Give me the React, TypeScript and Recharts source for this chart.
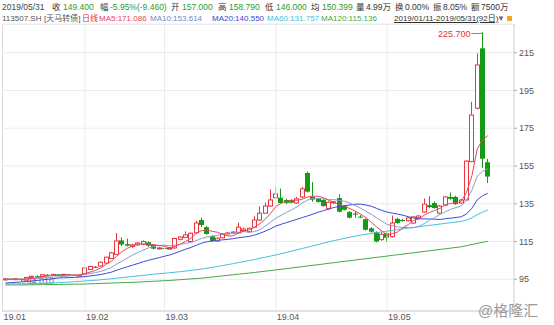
import { ComposedChart, Bar, Line, XAxis, YAxis, CartesianGrid, ReferenceLine } from "recharts";

const FONT = "'Liberation Sans', 'Noto Sans CJK SC', sans-serif";

// 2019/01/11 - 2019/05/31, 92 trading days (index 0..91)
const opens = [
  94.8, 95.2, 94.9, 95.2, 94.6, 96.0, 96.6, 96.5, 97.4, 97.0,
  97.6, 97.2, 97.6, 97.3, 97.0, 97.8, 100.2, 101.6, 102.0, 103.6,
  106.0, 108.2, 115.6, 113.6, 112.4, 113.2, 113.6, 114.6, 113.2, 111.4,
  111.6, 111.4, 111.6, 116.2, 117.2, 115.0, 119.6, 126.4, 122.6, 117.9,
  115.2, 117.0, 119.4, 119.6, 119.6, 120.8, 120.2, 122.6, 126.4, 130.0,
  133.8, 138.2, 138.2, 137.0, 137.0, 135.4, 138.6, 151.3, 138.6, 137.6,
  137.0, 132.4, 135.5, 138.0, 133.8, 130.6, 129.8, 128.2, 126.8, 122.0,
  120.0, 116.0, 119.4, 117.6, 127.0, 126.4, 126.0, 124.8, 127.6, 130.6,
  134.3, 135.4, 130.0, 134.3, 138.6, 138.6, 135.4, 137.0, 157.3, 185.6,
  217.3, 157.0,
];
const highs = [
  95.6, 95.5, 95.6, 95.4, 96.3, 96.9, 97.0, 97.6, 97.6, 97.9,
  97.8, 97.9, 97.8, 97.5, 97.4, 101.2, 102.2, 102.0, 104.4, 107.0,
  109.5, 119.5, 117.2, 116.5, 113.8, 114.6, 115.6, 115.0, 113.6, 112.2,
  112.0, 112.0, 117.0, 117.8, 120.4, 119.8, 126.0, 127.6, 123.2, 118.4,
  117.2, 119.4, 120.0, 120.4, 125.0, 122.4, 122.4, 128.4, 133.6, 135.6,
  142.6, 144.0, 143.0, 137.6, 137.4, 138.6, 144.0, 152.0, 146.5, 138.0,
  137.4, 136.2, 136.4, 140.0, 134.4, 131.2, 131.0, 129.0, 127.2, 122.6,
  120.4, 120.0, 119.8, 128.8, 127.6, 127.0, 127.8, 128.4, 129.0, 137.8,
  139.0, 136.2, 134.4, 139.0, 141.0, 139.2, 137.6, 158.0, 189.0, 214.7,
  225.7, 158.79,
];
const lows = [
  94.4, 94.5, 94.6, 94.01, 94.5, 95.8, 96.2, 96.3, 96.8, 96.8,
  97.0, 97.0, 97.0, 96.7, 96.6, 97.6, 100.0, 101.0, 101.8, 103.4,
  105.6, 108.0, 112.6, 112.4, 111.6, 112.8, 113.0, 112.2, 110.8, 110.8,
  111.0, 110.8, 111.2, 115.6, 116.8, 114.6, 119.2, 122.6, 118.6, 114.8,
  114.8, 116.6, 118.8, 119.0, 119.2, 120.4, 119.8, 122.2, 126.0, 129.6,
  133.4, 137.6, 135.0, 134.8, 135.2, 135.0, 138.0, 141.0, 136.0, 135.6,
  133.4, 132.0, 135.0, 130.4, 131.4, 127.2, 127.6, 127.4, 120.8, 119.8,
  114.6, 115.4, 114.8, 117.0, 124.4, 125.6, 125.6, 124.4, 127.2, 130.2,
  132.6, 132.4, 129.6, 134.0, 137.2, 134.4, 135.0, 136.6, 157.0, 185.0,
  154.0, 146.0,
];
const closes = [
  95.2, 94.9, 95.3, 94.6, 96.0, 96.6, 96.5, 97.4, 97.0, 97.6,
  97.2, 97.6, 97.3, 97.0, 97.2, 101.0, 101.8, 101.4, 104.0, 106.7,
  109.0, 115.3, 113.4, 112.8, 113.2, 114.2, 115.0, 112.8, 111.2, 111.6,
  111.4, 111.5, 116.6, 117.4, 118.5, 119.4, 124.8, 123.7, 119.0, 115.2,
  116.8, 119.0, 119.5, 120.0, 122.6, 121.6, 122.0, 126.4, 130.0, 133.8,
  137.0, 140.2, 135.4, 135.5, 135.6, 137.6, 142.9, 141.4, 137.2, 136.0,
  133.8, 135.8, 136.0, 130.8, 131.8, 127.6, 129.4, 128.0, 121.2, 120.2,
  115.0, 118.8, 117.0, 124.8, 124.8, 125.8, 127.5, 128.0, 128.5, 134.8,
  133.2, 132.7, 133.8, 138.6, 137.6, 134.8, 137.0, 157.6, 182.0, 208.5,
  158.86, 149.4,
];

const ma5 = [
  95.1, 95.05, 95.1, 95.0, 95.2, 95.48, 95.8, 96.22, 96.7, 97.02,
  97.14, 97.36, 97.34, 97.34, 97.26, 98.02, 98.86, 99.68, 101.08, 102.98,
  104.58, 107.28, 109.68, 111.44, 112.74, 113.78, 113.72, 113.6, 113.28, 112.96,
  112.4, 111.7, 112.46, 113.7, 115.08, 116.68, 119.34, 120.76, 121.08, 120.42,
  119.9, 118.74, 117.9, 118.1, 119.58, 120.54, 121.14, 122.52, 124.52, 126.76,
  129.84, 133.48, 135.28, 136.38, 136.74, 136.86, 137.4, 138.6, 138.94, 139.02,
  138.26, 136.84, 135.76, 134.48, 133.64, 132.4, 131.12, 129.52, 127.6, 125.28,
  122.76, 120.64, 118.44, 119.16, 120.08, 122.24, 123.98, 126.18, 126.92, 128.92,
  130.4, 131.44, 132.6, 134.62, 135.18, 135.5, 136.36, 141.12, 149.8, 163.98,
  168.79, 171.09,
];
const ma10 = [
  95.1, 95.05, 95.05, 95.0, 95.15, 95.29, 95.43, 95.66, 95.85, 96.11,
  96.31, 96.58, 96.78, 97.02, 97.14, 97.58, 98.11, 98.51, 99.21, 100.12,
  101.3, 103.07, 104.68, 106.26, 107.86, 109.18, 110.5, 111.64, 112.36, 112.85,
  113.09, 112.71, 113.03, 113.49, 114.02, 114.54, 115.52, 116.61, 117.39, 117.75,
  118.29, 119.04, 119.33, 119.59, 120.0, 120.22, 119.94, 120.21, 121.31, 123.17,
  125.19, 127.31, 128.9, 130.45, 131.75, 133.35, 135.44, 136.94, 137.66, 137.88,
  137.56, 137.12, 137.18, 136.71, 136.33, 135.33, 133.98, 132.64, 131.04, 129.46,
  127.58, 125.88, 123.98, 123.38, 122.68, 122.5, 122.31, 122.31, 123.04, 124.5,
  126.32, 127.71, 129.39, 130.77, 132.05, 132.95, 133.9, 136.86, 142.21, 149.58,
  152.15, 153.61,
];
const ma20 = [
  93.0, 93.2, 93.4, 93.6, 93.8, 94.1, 94.4, 94.7, 95.0, 95.3,
  95.7, 95.8, 95.9, 96.0, 96.15, 96.44, 96.77, 97.09, 97.53, 98.12,
  98.8, 99.83, 100.73, 101.64, 102.5, 103.38, 104.3, 105.08, 105.78, 106.48,
  107.2, 107.89, 108.86, 109.88, 110.94, 111.86, 113.01, 114.13, 114.88, 115.3,
  115.69, 115.88, 116.18, 116.54, 117.01, 117.38, 117.73, 118.41, 119.35, 120.46,
  121.74, 123.18, 124.12, 125.02, 125.88, 126.79, 127.69, 128.58, 129.49, 130.53,
  131.38, 132.22, 133.04, 133.58, 134.04, 134.34, 134.71, 134.79, 134.35, 133.67,
  132.57, 131.5, 130.58, 130.05, 129.51, 128.92, 128.15, 127.48, 127.04, 126.98,
  126.95, 126.8, 126.69, 127.08, 127.37, 127.73, 128.11, 129.59, 132.63, 137.04,
  139.24, 140.55,
];
const ma60 = [
  92.5, 92.55, 92.6, 92.65, 92.7, 92.75, 92.8, 92.9, 93.0, 93.1,
  93.2, 93.35, 93.5, 93.7, 93.9, 94.1, 94.3, 94.5, 94.75, 95.0,
  95.3, 95.6, 95.9, 96.2, 96.5, 96.8, 97.1, 97.4, 97.7, 97.95,
  98.2, 98.45, 98.75, 99.05, 99.35, 99.7, 100.05, 100.4, 100.85, 101.3,
  101.8, 102.3, 102.8, 103.3, 103.85, 104.4, 104.95, 105.5, 106.1, 106.7,
  107.3, 107.9, 108.5, 109.2, 109.9, 110.6, 111.3, 112.0, 112.7, 113.4,
  114.1, 114.8, 115.5, 116.1, 116.7, 117.3, 117.9, 118.4, 118.85, 119.3,
  119.7, 120.1, 120.5, 120.9, 121.3, 121.7, 122.1, 122.45, 122.8, 123.2,
  123.55, 123.9, 124.25, 124.6, 124.95, 125.3, 125.65, 126.4, 127.6, 129.2,
  130.5, 131.76,
];
const ma120 = [
  92.0, 92.0, 92.0, 92.0, 92.05, 92.1, 92.1, 92.15, 92.2, 92.2,
  92.25, 92.3, 92.35, 92.4, 92.45, 92.5, 92.6, 92.7, 92.8, 92.9,
  93.0, 93.1, 93.2, 93.3, 93.4, 93.5, 93.65, 93.8, 93.95, 94.1,
  94.25, 94.4, 94.6, 94.8, 95.0, 95.2, 95.4, 95.6, 95.9, 96.2,
  96.5, 96.8, 97.1, 97.4, 97.7, 98.0, 98.3, 98.6, 98.95, 99.3,
  99.6, 99.95, 100.3, 100.65, 101.0, 101.35, 101.7, 102.05, 102.4, 102.75,
  103.1, 103.45, 103.8, 104.15, 104.5, 104.85, 105.2, 105.55, 105.9, 106.25,
  106.6, 106.95, 107.3, 107.65, 108.0, 108.35, 108.7, 109.05, 109.4, 109.75,
  110.1, 110.45, 110.8, 111.15, 111.5, 111.85, 112.2, 112.8, 113.4, 114.0,
  114.6, 115.14,
];

const monthTicks = [0, 15, 30, 51, 72];
const monthLabels = ["19.01", "19.02", "19.03", "19.04", "19.05"];
const priceTicks = [95, 115, 135, 155, 175, 195, 215];

const UP = "#e8383d";
const DOWN = "#169a16";

const data = closes.map((c, i) => ({
  i,
  open: opens[i],
  high: highs[i],
  low: lows[i],
  close: c,
  ma5: ma5[i],
  ma10: ma10[i],
  ma20: ma20[i],
  ma60: ma60[i],
  ma120: ma120[i],
}));

const maxHigh = Math.max(...highs);
const minLow = Math.min(...lows);

function Candle(props: any) {
  const { x, y, width, height, payload } = props;
  if (!payload) return null;
  const { open, close, high, low } = payload;
  const top = Math.min(y, y + height);
  const bottom = Math.max(y, y + height);
  const span = high - low;
  const py = (v: number) => (span > 0 ? top + ((high - v) / span) * (bottom - top) : top);
  const cx = Math.floor(x + width / 2) + 0.5;
  const up = close >= open;
  const color = up ? UP : DOWN;
  const bTop = py(Math.max(open, close));
  let bBot = py(Math.min(open, close));
  if (bBot - bTop < 1) bBot = bTop + 1;
  return (
    <g>
      {up ? (
        <>
          <line x1={cx} x2={cx} y1={top} y2={bTop} stroke={color} />
          <line x1={cx} x2={cx} y1={bBot} y2={bottom} stroke={color} />
          <rect x={cx - 2} y={bTop} width={4} height={bBot - bTop} fill="#fff" stroke={color} />
        </>
      ) : (
        <>
          <line x1={cx} x2={cx} y1={top} y2={bottom} stroke={color} />
          <rect x={cx - 2.5} y={bTop} width={5} height={bBot - bTop} fill={color} />
        </>
      )}
      {high === maxHigh && (
        <g>
          <polyline points={`${cx - 11},${top + 1} ${cx - 1},${top + 1} ${cx - 1},${top}`} fill="none" stroke="#3aa8b8" />
          <text x={cx - 12} y={top + 5} fontSize={9} fill="#e03535" textAnchor="end" fontFamily={FONT}>
            {high.toFixed(3)}
          </text>
        </g>
      )}
      {low === minLow && (
        <g>
          <line x1={cx + 1} x2={cx + 5} y1={bottom} y2={bottom} stroke="#6a7fa8" />
          <text x={cx + 5} y={bottom + 3} fontSize={9} fill="#5d6f96" fontFamily={FONT}>
            {low.toFixed(3)}
          </text>
        </g>
      )}
    </g>
  );
}

function MonthTick(props: any) {
  const { x, y, payload, index } = props;
  return (
    <text x={index === 0 ? x - 2 : x + 1} y={y + 9} fontSize={9} fill="#555" fontFamily={FONT}>
      {monthLabels[monthTicks.indexOf(payload.value)]}
    </text>
  );
}

const abs = (left: number, top: number, color: string, extra: any = {}) => ({
  position: "absolute" as const,
  left,
  top,
  color,
  whiteSpace: "nowrap" as const,
  ...extra,
});

const G = "#2f9a2f";
const K = "#333";

const row1: [string, number, string][] = [
  ["2019/05/31", 2, "#444"],
  ["收", 52, K],
  ["149.400", 63, G],
  ["幅", 100, K],
  ["-5.95%(-9.460)", 110, G],
  ["开", 171, K],
  ["157.000", 182, G],
  ["高", 218, K],
  ["158.790", 229, G],
  ["低", 265, K],
  ["146.000", 276, G],
  ["均", 311, K],
  ["150.399", 322, G],
  ["量", 356, K],
  ["4.99万", 366, K],
  ["换", 395, K],
  ["0.00%", 405, K],
  ["振", 433, K],
  ["8.05%", 443, K],
  ["额", 471, K],
  ["7500万", 481, K],
];

const row2: [string, number, string][] = [
  ["113507.SH", 2, "#555"],
  ["[天马转债]", 44, "#555"],
  ["日线", 82, "#e0303a"],
  ["MA5:171.086", 99, "#e8405a"],
  ["MA10:153.614", 150, "#7088bd"],
  ["MA20:140.550", 212, "#3344d4"],
  ["MA60:131.757", 267, "#3dbfdc"],
  ["MA120:115.136", 321, "#44a844"],
];

export default function App() {
  return (
    <div style={{ position: "absolute", left: 0, top: 0, width: 554, height: 325, background: "#fff", fontFamily: FONT, overflow: "hidden" }}>
      <div style={{ position: "absolute", left: 2, top: 24, width: 512, height: 287, borderLeft: "1px solid #d9d9d9", borderTop: "1px solid #ececec" }} />
      {row1.map(([t, x, c], k) => (
        <span key={"a" + k} style={abs(x, 2, c, { fontSize: 8.5, lineHeight: "11px" })}>{t}</span>
      ))}
      {row2.map(([t, x, c], k) => (
        <span key={"b" + k} style={abs(x, 13, c, { fontSize: 8, lineHeight: "11px" })}>{t}</span>
      ))}
      <span style={abs(394, 13, "#333", { fontSize: 8, lineHeight: "11px", textDecoration: "underline" })}>
        2019/01/11-2019/05/31(92日)
      </span>
      <span style={abs(497, 13, "#666", { fontSize: 8, lineHeight: "11px" })}>▼</span>
      <span style={abs(507, 16, "#f0a020", { width: 5, height: 5, background: "#f5a623" })} />
      <ComposedChart width={554} height={325} data={data} margin={{ top: 24, right: 0, bottom: 0, left: 2 }} style={{ position: "absolute", left: 0, top: 0 }}>
        <CartesianGrid stroke="#ececec" vertical={false} />
        {monthTicks.slice(1).map((t) => (
          <ReferenceLine key={t} x={t} stroke="#ececec" />
        ))}
        <XAxis
          type="number"
          dataKey="i"
          domain={[-0.66, 95.94]}
          allowDataOverflow
          ticks={monthTicks}
          interval={0}
          height={14}
          tickLine={false}
          tickSize={0}
          tickMargin={0}
          axisLine={{ stroke: "#cfcfcf" }}
          tick={<MonthTick />}
        />
        <YAxis
          orientation="right"
          width={40}
          domain={[78.2, 230.2]}
          allowDataOverflow
          ticks={priceTicks}
          interval={0}
          tickSize={3}
          tickMargin={2}
          tickLine={{ stroke: "#aaa" }}
          axisLine={{ stroke: "#cfcfcf" }}
          tick={{ fontSize: 9, fill: "#555", fontFamily: FONT }}
        />
        <Bar dataKey={(d: any) => [d.low, d.high]} barSize={5} shape={<Candle />} isAnimationActive={false} />
        <Line dataKey="ma120" stroke="#44a844" strokeWidth={1} dot={false} activeDot={false} isAnimationActive={false} />
        <Line dataKey="ma60" stroke="#41c2dc" strokeWidth={1} dot={false} activeDot={false} isAnimationActive={false} />
        <Line dataKey="ma20" stroke="#3a4cd8" strokeWidth={1} dot={false} activeDot={false} isAnimationActive={false} />
        <Line dataKey="ma10" stroke="#8a9dd4" strokeWidth={1} dot={false} activeDot={false} isAnimationActive={false} />
        <Line dataKey="ma5" stroke="#e6475c" strokeWidth={1} dot={false} activeDot={false} isAnimationActive={false} />
      </ComposedChart>
      <span style={abs(478, 302, "#9a9a9a", { fontSize: 15, lineHeight: "18px" })}>@格隆汇</span>
    </div>
  );
}
